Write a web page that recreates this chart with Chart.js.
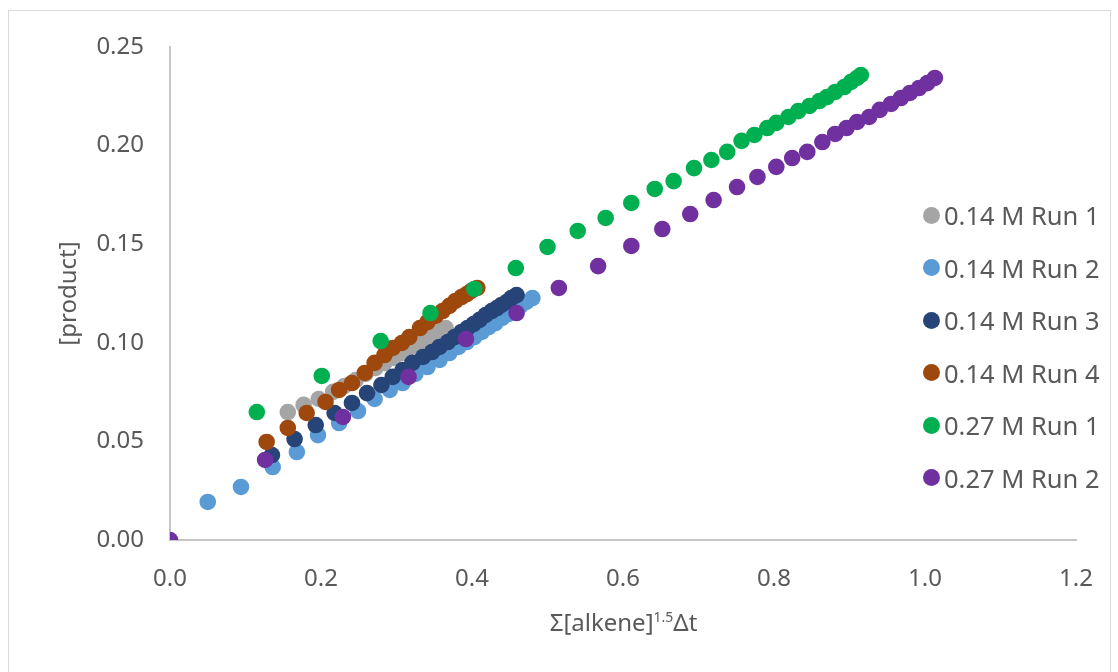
<!DOCTYPE html>
<html>
<head>
<meta charset="utf-8">
<script src="https://cdn.jsdelivr.net/npm/chart.js@4.4.1/dist/chart.umd.min.js"></script>
<style>
  body { margin: 0; background: #fff; font-family: 'Noto Sans', sans-serif; }
  #wrap { position: relative; width: 1118px; height: 672px; overflow: hidden; }
  #frame { position: absolute; left: 8px; top: 10px; width: 1103px; height: 700px; border: 1px solid #d9d9d9; box-sizing: border-box; }
  #chart { position: absolute; left: 0; top: 0; }
  #xtitle { position: absolute; left: 170px; width: 907px; top: 607px; line-height: 30px; text-align: center; font-size: 24px; color: #595959; }
  #xtitle sup { font-size: 14px; vertical-align: 9px; line-height: 0; }
  #legend { position: absolute; left: 923px; top: 189px; }
  .item { display: flex; align-items: center; height: 52.5px; font-size: 25.5px; color: #595959; white-space: nowrap; }
  .dot { width: 17px; height: 17px; border-radius: 50%; margin-right: 4px; }
</style>
</head>
<body>
<div id="wrap">
  <div id="frame"></div>
  <canvas id="chart" width="1118" height="672"></canvas>
  <div id="xtitle">Σ[alkene]<sup>1.5</sup>Δt</div>
  <div id="legend"></div>
</div>
<script>
// series values
const seriesLabels = ['0.14 M Run 1', '0.14 M Run 2', '0.14 M Run 3', '0.14 M Run 4', '0.27 M Run 1', '0.27 M Run 2'];

const m14Run1X = [0.156, 0.177, 0.197, 0.216, 0.231, 0.246, 0.259, 0.272, 0.284, 0.296, 0.307, 0.317, 0.328, 0.337, 0.347, 0.356, 0.365];
const m14Run1Y = [0.0649, 0.0685, 0.0715, 0.0751, 0.0781, 0.0811, 0.0842, 0.0872, 0.0898, 0.0923, 0.0948, 0.0974, 0.0994, 0.1014, 0.1034, 0.1055, 0.1075];

const m14Run2X = [0.050, 0.094, 0.136, 0.168, 0.196, 0.224, 0.249, 0.271, 0.291, 0.308, 0.325, 0.341, 0.357, 0.370, 0.382, 0.393, 0.403, 0.413, 0.422, 0.431, 0.440, 0.448, 0.456, 0.464, 0.472, 0.480];
const m14Run2Y = [0.0193, 0.0269, 0.0370, 0.0446, 0.0532, 0.0593, 0.0654, 0.0715, 0.0761, 0.0796, 0.0842, 0.0877, 0.0913, 0.0948, 0.0979, 0.1004, 0.1029, 0.1055, 0.1080, 0.1100, 0.1126, 0.1146, 0.1166, 0.1187, 0.1207, 0.1227];

const m14Run3X = [0.135, 0.165, 0.193, 0.218, 0.241, 0.261, 0.280, 0.295, 0.308, 0.321, 0.335, 0.347, 0.357, 0.368, 0.377, 0.386, 0.394, 0.402, 0.410, 0.418, 0.426, 0.433, 0.439, 0.446, 0.452, 0.459];
const m14Run3Y = [0.0431, 0.0512, 0.0583, 0.0644, 0.0695, 0.0745, 0.0786, 0.0827, 0.0862, 0.0898, 0.0928, 0.0953, 0.0979, 0.1004, 0.1029, 0.1055, 0.1075, 0.1095, 0.1116, 0.1141, 0.1161, 0.1176, 0.1192, 0.1207, 0.1227, 0.1242];

const m14Run4X = [0.128, 0.156, 0.181, 0.206, 0.224, 0.241, 0.258, 0.271, 0.284, 0.295, 0.307, 0.317, 0.331, 0.341, 0.352, 0.361, 0.370, 0.378, 0.386, 0.393, 0.399, 0.407];
const m14Run4Y = [0.0497, 0.0568, 0.0644, 0.0700, 0.0761, 0.0796, 0.0847, 0.0898, 0.0938, 0.0974, 0.0999, 0.1029, 0.1075, 0.1105, 0.1136, 0.1161, 0.1187, 0.1212, 0.1232, 0.1247, 0.1263, 0.1278];

const m27Run1X = [0.115, 0.201, 0.279, 0.345, 0.403, 0.458, 0.500, 0.540, 0.577, 0.611, 0.642, 0.667, 0.694, 0.717, 0.738, 0.757, 0.774, 0.791, 0.803, 0.819, 0.832, 0.847, 0.860, 0.870, 0.881, 0.893, 0.902, 0.910, 0.915];
const m27Run1Y = [0.0649, 0.0832, 0.1009, 0.1151, 0.1273, 0.1379, 0.1486, 0.1567, 0.1633, 0.1709, 0.1780, 0.1820, 0.1886, 0.1927, 0.1968, 0.2024, 0.2054, 0.2089, 0.2115, 0.2145, 0.2175, 0.2201, 0.2226, 0.2246, 0.2272, 0.2297, 0.2323, 0.2343, 0.2358];

const m27Run2X = [0.000, 0.126, 0.229, 0.316, 0.392, 0.459, 0.515, 0.567, 0.611, 0.652, 0.689, 0.720, 0.751, 0.778, 0.803, 0.824, 0.844, 0.864, 0.881, 0.896, 0.910, 0.926, 0.940, 0.955, 0.968, 0.980, 0.992, 1.003, 1.013];
const m27Run2Y = [0.0000, 0.0406, 0.0624, 0.0827, 0.1019, 0.1151, 0.1278, 0.1389, 0.1491, 0.1577, 0.1653, 0.1724, 0.1790, 0.1841, 0.1892, 0.1937, 0.1968, 0.2018, 0.2059, 0.2089, 0.2120, 0.2145, 0.2181, 0.2211, 0.2241, 0.2267, 0.2292, 0.2317, 0.2343];

const seriesX = [m14Run1X, m14Run2X, m14Run3X, m14Run4X, m27Run1X, m27Run2X];
const seriesY = [m14Run1Y, m14Run2Y, m14Run3Y, m14Run4Y, m27Run1Y, m27Run2Y];

const colors = ['#A5A5A5', '#5B9BD5', '#264478', '#9E480E', '#00B050', '#7030A0'];
const textColor = '#595959';
const axisFont = { family: "'Noto Sans', sans-serif", size: 24 };

const datasets = seriesLabels.map((label, i) => ({
  label: label,
  data: seriesX[i].map((x, j) => ({ x: x, y: seriesY[i][j] })),
  backgroundColor: colors[i],
  pointRadius: 8.3,
  pointBorderWidth: 0,
  pointHoverRadius: 8.3,
  order: seriesLabels.length - i  // later series drawn on top, like Excel
}));

new Chart(document.getElementById('chart'), {
  type: 'scatter',
  data: { datasets: datasets },
  options: {
    responsive: false,
    animation: false,
    events: [],
    layout: { padding: { left: 0, right: 41, top: 47, bottom: 0 } },
    plugins: {
      legend: { display: false },
      tooltip: { enabled: false }
    },
    scales: {
      x: {
        type: 'linear',
        min: 0,
        max: 1.2,
        grid: { display: false, drawTicks: false },
        border: { display: true, color: '#c6c6c6', width: 2 },
        ticks: { stepSize: 0.2, padding: 25, color: textColor, font: axisFont, callback: v => v.toFixed(1) },
        afterFit: s => { s.height = 132; }
      },
      y: {
        min: 0,
        max: 0.25,
        grid: { display: false, drawTicks: false },
        border: { display: true, color: '#c6c6c6', width: 2 },
        ticks: { stepSize: 0.05, padding: 26, color: textColor, font: axisFont, callback: v => v.toFixed(2) },
        title: { display: true, text: '[product]', color: textColor, font: axisFont, padding: { top: 55, bottom: 0 } },
        afterFit: s => { s.width = 170; }
      }
    }
  }
});

// legend drawn as html, overlapping the plot like the Excel one
const legend = document.getElementById('legend');
seriesLabels.forEach((label, i) => {
  const row = document.createElement('div');
  row.className = 'item';
  row.innerHTML = '<span class="dot" style="background:' + colors[i] + '"></span>' + label;
  legend.appendChild(row);
});
</script>
</body>
</html>
